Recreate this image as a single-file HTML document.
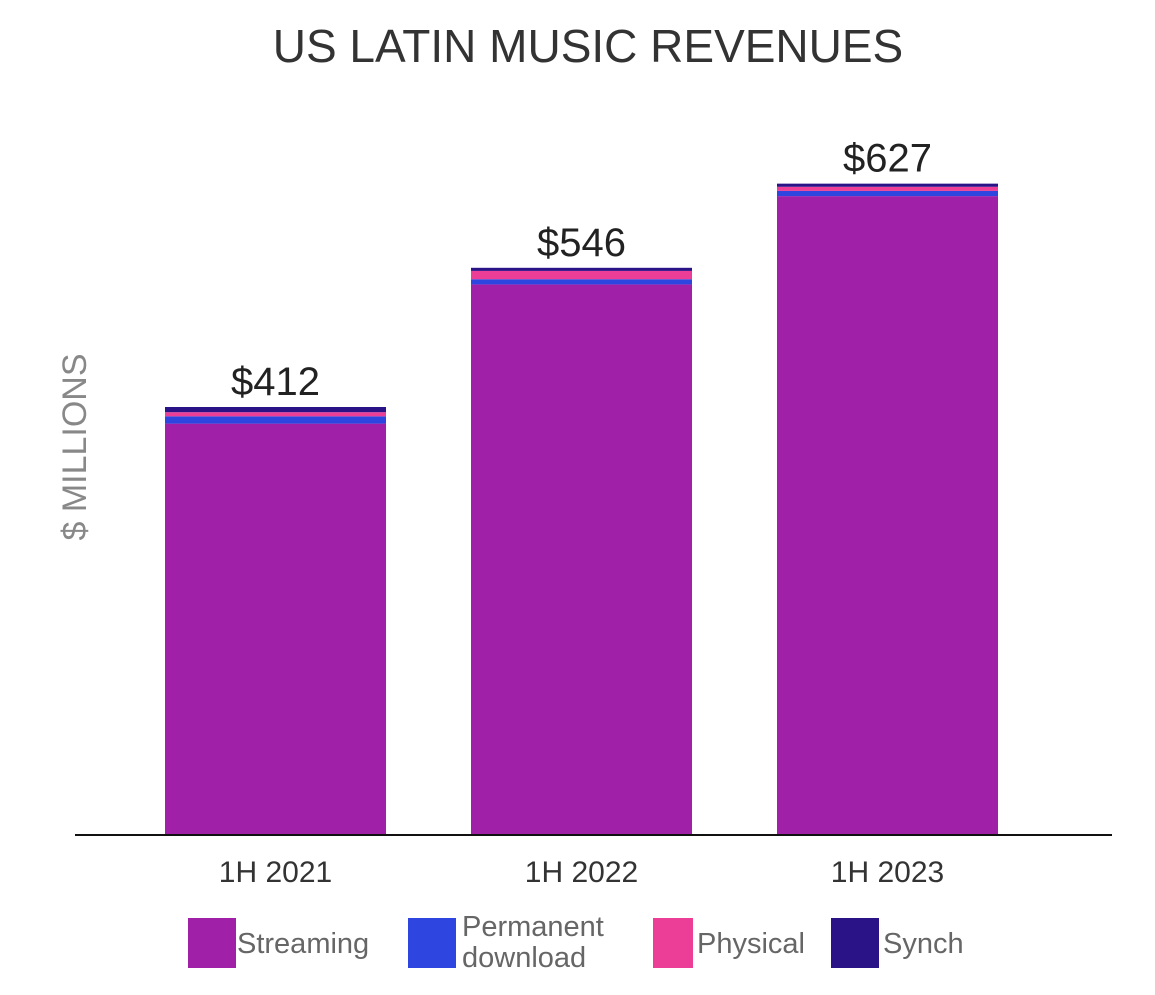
<!DOCTYPE html>
<html><head><meta charset="utf-8"><style>
body{margin:0;background:#fff;font-family:"Liberation Sans",sans-serif}
svg text{font-family:"Liberation Sans",sans-serif}
</style></head><body>
<svg width="1155" height="990">
<text x="588" y="62" text-anchor="middle" font-size="46" fill="#333">US LATIN MUSIC REVENUES</text>
<text transform="translate(86,447) rotate(-90)" text-anchor="middle" font-size="34" fill="#888">$ MILLIONS</text>
<g id="bars"></g>
<line x1="75" y1="835" x2="1112" y2="835" stroke="#111" stroke-width="2"/>
<g>
<rect x="188" y="918" width="48" height="50" fill="#A020A8"/>
<text x="237" y="953" font-size="29" fill="#666">Streaming</text>
<rect x="408" y="918" width="48" height="50" fill="#2E45E0"/>
<text x="462" y="936" font-size="29" fill="#666">Permanent</text>
<text x="462" y="967" font-size="29" fill="#666">download</text>
<rect x="653" y="918" width="40" height="50" fill="#EC3E96"/>
<text x="697" y="953" font-size="29" fill="#666">Physical</text>
<rect x="831" y="918" width="48" height="50" fill="#2A1287"/>
<text x="883" y="953" font-size="29" fill="#666">Synch</text>
</g>
</svg>
<script>
const categories=["1H 2021","1H 2022","1H 2023"];
const streaming=[396,530,615];
const download=[7,5,5];
const physical=[4,8,4];
const synch=[5,3,3];
const totals=[412,546,627];
const colors=["#A020A8","#2E45E0","#EC3E96","#2A1287"];
const names=["streaming","download","physical","synch"];
const base=835,scale=428/412;
const y=v=>base-v*scale;
const xL=i=>165+i*306,bw=221;
const g=document.getElementById('bars');
const ns="http://www.w3.org/2000/svg";
categories.forEach((c,i)=>{
  let acc=0;
  [streaming,download,physical,synch].forEach((s,k)=>{
    const r=document.createElementNS(ns,'rect');
    r.setAttribute('x',xL(i));r.setAttribute('width',bw);
    r.setAttribute('y',y(acc+s[i]));r.setAttribute('height',s[i]*scale);
    r.setAttribute('fill',colors[k]);
    
    
    g.appendChild(r);acc+=s[i];
  });
  const t=document.createElementNS(ns,'text');
  t.setAttribute('x',xL(i)+bw/2);t.setAttribute('y',y(totals[i])-12);
  t.setAttribute('text-anchor','middle');t.setAttribute('font-size','40');t.setAttribute('fill','#222');
  t.textContent='$'+totals[i];
  
  
  g.appendChild(t);
  const l=document.createElementNS(ns,'text');
  l.setAttribute('x',xL(i)+bw/2);l.setAttribute('y',882);
  l.setAttribute('text-anchor','middle');l.setAttribute('font-size','30');l.setAttribute('fill','#333');
  l.textContent=c;
  
  
  g.appendChild(l);
});
</script>
</body></html>
